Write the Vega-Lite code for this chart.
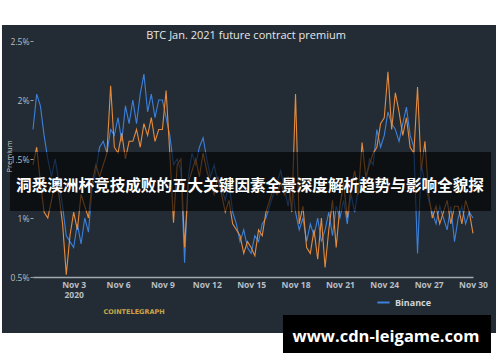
{
  "$schema": "https://vega.github.io/schema/vega-lite/v6.json",
  "width": 440,
  "height": 236,
  "autosize": {"type": "none"},
  "padding": {"left": 33, "top": 41, "right": 27, "bottom": 85},
  "background": "white",
  "config": {"view": {"stroke": null}, "font": "Open Sans"},
  "datasets": {
    "panel": [{"t": "2020-10-29T03:40", "t2": "2020-12-01T13:20", "v": 0.025, "v2": 2.636}],
    "titleText": [{"t": "2020-11-14T15:40", "v": 2.545, "label": "BTC Jan. 2021 future contract premium"}],
    "banner": [{"t": "2020-10-29T16:40", "t2": "2020-12-01T05:13", "v": 1.0593, "v2": 1.5593}],
    "bannerText": [{"t": "2020-11-14T22:05", "v": 1.2712, "label": "洞悉澳洲杯竞技成败的五大关键因素全景深度解析趋势与影响全貌探"}],
    "mark": [{"t": "2020-11-17T03:40", "t2": "2020-12-01T05:13", "v": -0.144, "v2": 0.178}],
    "markText": [{"t": "2020-11-24T02:50", "v": -0.0085, "label": "www.cdn-leigame.com"}],
    "logo": [{"t": "2020-11-07T02:00", "v": 0.203, "label": "COINTELEGRAPH"}],
    "premium": [
      {"t": "2020-10-31T06:00", "Binance": 1.75, "OKEx": 1.45},
      {"t": "2020-10-31T12:00", "Binance": 2.05, "OKEx": 1.6},
      {"t": "2020-10-31T18:00", "Binance": 1.95, "OKEx": 1.3},
      {"t": "2020-11-01T00:00", "Binance": 1.7, "OKEx": 1.05},
      {"t": "2020-11-01T06:00", "Binance": 1.5, "OKEx": 1.0},
      {"t": "2020-11-01T12:00", "Binance": 1.35, "OKEx": 1.15},
      {"t": "2020-11-01T18:00", "Binance": 1.5, "OKEx": 1.3},
      {"t": "2020-11-02T00:00", "Binance": 1.3, "OKEx": 1.2},
      {"t": "2020-11-02T06:00", "Binance": 1.1, "OKEx": 0.95},
      {"t": "2020-11-02T12:00", "Binance": 0.85, "OKEx": 0.52},
      {"t": "2020-11-02T18:00", "Binance": 0.8, "OKEx": 0.85},
      {"t": "2020-11-03T00:00", "Binance": 0.75, "OKEx": 1.05},
      {"t": "2020-11-03T06:00", "Binance": 0.95, "OKEx": 0.9},
      {"t": "2020-11-03T12:00", "Binance": 0.78, "OKEx": 1.2},
      {"t": "2020-11-03T18:00", "Binance": 1.0, "OKEx": 1.1},
      {"t": "2020-11-04T00:00", "Binance": 0.88, "OKEx": 1.0},
      {"t": "2020-11-04T06:00", "Binance": 1.25, "OKEx": 1.3},
      {"t": "2020-11-04T12:00", "Binance": 1.4, "OKEx": 1.45},
      {"t": "2020-11-04T18:00", "Binance": 1.6, "OKEx": 1.35},
      {"t": "2020-11-05T00:00", "Binance": 1.65, "OKEx": 1.45},
      {"t": "2020-11-05T06:00", "Binance": 1.55, "OKEx": 1.55},
      {"t": "2020-11-05T12:00", "Binance": 1.75, "OKEx": 2.12},
      {"t": "2020-11-05T18:00", "Binance": 1.7, "OKEx": 1.6},
      {"t": "2020-11-06T00:00", "Binance": 1.85, "OKEx": 1.55},
      {"t": "2020-11-06T06:00", "Binance": 1.65, "OKEx": 1.72},
      {"t": "2020-11-06T12:00", "Binance": 1.95, "OKEx": 1.5},
      {"t": "2020-11-06T18:00", "Binance": 1.8, "OKEx": 1.65},
      {"t": "2020-11-07T00:00", "Binance": 2.0, "OKEx": 1.65},
      {"t": "2020-11-07T06:00", "Binance": 1.8, "OKEx": 1.75},
      {"t": "2020-11-07T12:00", "Binance": 2.05, "OKEx": 1.6},
      {"t": "2020-11-07T18:00", "Binance": 2.22, "OKEx": 1.8},
      {"t": "2020-11-08T00:00", "Binance": 1.9, "OKEx": 1.7},
      {"t": "2020-11-08T06:00", "Binance": 2.05, "OKEx": 1.85},
      {"t": "2020-11-08T12:00", "Binance": 1.85, "OKEx": 1.65},
      {"t": "2020-11-08T18:00", "Binance": 2.0, "OKEx": 1.75},
      {"t": "2020-11-09T00:00", "Binance": 2.0, "OKEx": 1.75},
      {"t": "2020-11-09T06:00", "Binance": 1.85, "OKEx": 2.08},
      {"t": "2020-11-09T12:00", "Binance": 1.7, "OKEx": 1.55},
      {"t": "2020-11-09T18:00", "Binance": 1.45, "OKEx": 0.96},
      {"t": "2020-11-10T00:00", "Binance": 1.5, "OKEx": 1.45},
      {"t": "2020-11-10T06:00", "Binance": 1.4, "OKEx": 1.5},
      {"t": "2020-11-10T12:00", "Binance": 0.62, "OKEx": 0.75},
      {"t": "2020-11-10T18:00", "Binance": 1.35, "OKEx": 1.3},
      {"t": "2020-11-11T00:00", "Binance": 1.55, "OKEx": 1.4},
      {"t": "2020-11-11T06:00", "Binance": 1.45, "OKEx": 1.5},
      {"t": "2020-11-11T12:00", "Binance": 1.6, "OKEx": 1.35},
      {"t": "2020-11-11T18:00", "Binance": 1.68, "OKEx": 1.55},
      {"t": "2020-11-12T00:00", "Binance": 1.5, "OKEx": 1.4},
      {"t": "2020-11-12T06:00", "Binance": 1.35, "OKEx": 1.3},
      {"t": "2020-11-12T12:00", "Binance": 1.45, "OKEx": 1.2},
      {"t": "2020-11-12T18:00", "Binance": 1.3, "OKEx": 1.35},
      {"t": "2020-11-13T00:00", "Binance": 1.25, "OKEx": 1.2},
      {"t": "2020-11-13T06:00", "Binance": 1.15, "OKEx": 1.05},
      {"t": "2020-11-13T12:00", "Binance": 1.3, "OKEx": 1.15},
      {"t": "2020-11-13T18:00", "Binance": 1.05, "OKEx": 0.95},
      {"t": "2020-11-14T00:00", "Binance": 0.95, "OKEx": 0.9},
      {"t": "2020-11-14T06:00", "Binance": 0.8, "OKEx": 0.85},
      {"t": "2020-11-14T12:00", "Binance": 0.9, "OKEx": 0.7},
      {"t": "2020-11-14T18:00", "Binance": 0.75, "OKEx": 0.8},
      {"t": "2020-11-15T00:00", "Binance": 0.7, "OKEx": 0.75},
      {"t": "2020-11-15T06:00", "Binance": 0.85, "OKEx": 0.68},
      {"t": "2020-11-15T12:00", "Binance": 0.8, "OKEx": 0.9},
      {"t": "2020-11-15T18:00", "Binance": 0.95, "OKEx": 0.85},
      {"t": "2020-11-16T00:00", "Binance": 1.0, "OKEx": 1.05},
      {"t": "2020-11-16T06:00", "Binance": 1.1, "OKEx": 1.15},
      {"t": "2020-11-16T12:00", "Binance": 1.2, "OKEx": 1.25},
      {"t": "2020-11-16T18:00", "Binance": 1.3, "OKEx": 1.2},
      {"t": "2020-11-17T00:00", "Binance": 1.4, "OKEx": 1.3},
      {"t": "2020-11-17T06:00", "Binance": 1.25, "OKEx": 1.2},
      {"t": "2020-11-17T12:00", "Binance": 1.1, "OKEx": 1.35},
      {"t": "2020-11-17T18:00", "Binance": 1.3, "OKEx": 1.05},
      {"t": "2020-11-18T00:00", "Binance": 1.05, "OKEx": 2.05},
      {"t": "2020-11-18T06:00", "Binance": 0.9, "OKEx": 0.95},
      {"t": "2020-11-18T12:00", "Binance": 1.0, "OKEx": 1.1},
      {"t": "2020-11-18T18:00", "Binance": 0.8, "OKEx": 0.75},
      {"t": "2020-11-19T00:00", "Binance": 0.95, "OKEx": 0.7},
      {"t": "2020-11-19T06:00", "Binance": 0.85, "OKEx": 0.9},
      {"t": "2020-11-19T12:00", "Binance": 1.0, "OKEx": 0.65},
      {"t": "2020-11-19T18:00", "Binance": 0.8, "OKEx": 1.0},
      {"t": "2020-11-20T00:00", "Binance": 0.9, "OKEx": 0.58},
      {"t": "2020-11-20T06:00", "Binance": 1.05, "OKEx": 0.9},
      {"t": "2020-11-20T12:00", "Binance": 0.85, "OKEx": 1.15},
      {"t": "2020-11-20T18:00", "Binance": 1.1, "OKEx": 0.75},
      {"t": "2020-11-21T00:00", "Binance": 1.0, "OKEx": 1.1},
      {"t": "2020-11-21T06:00", "Binance": 1.15, "OKEx": 1.3},
      {"t": "2020-11-21T12:00", "Binance": 0.95, "OKEx": 1.0},
      {"t": "2020-11-21T18:00", "Binance": 1.2, "OKEx": 1.25},
      {"t": "2020-11-22T00:00", "Binance": 1.05, "OKEx": 1.4},
      {"t": "2020-11-22T06:00", "Binance": 1.25, "OKEx": 1.2},
      {"t": "2020-11-22T12:00", "Binance": 1.35, "OKEx": 1.64},
      {"t": "2020-11-22T18:00", "Binance": 1.3, "OKEx": 1.35},
      {"t": "2020-11-23T00:00", "Binance": 1.5, "OKEx": 1.45},
      {"t": "2020-11-23T06:00", "Binance": 1.45, "OKEx": 1.55},
      {"t": "2020-11-23T12:00", "Binance": 1.75, "OKEx": 1.6},
      {"t": "2020-11-23T18:00", "Binance": 1.6, "OKEx": 1.8},
      {"t": "2020-11-24T00:00", "Binance": 1.7, "OKEx": 1.85},
      {"t": "2020-11-24T06:00", "Binance": 1.9, "OKEx": 2.24},
      {"t": "2020-11-24T12:00", "Binance": 1.8, "OKEx": 1.75},
      {"t": "2020-11-24T18:00", "Binance": 1.75, "OKEx": 2.06},
      {"t": "2020-11-25T00:00", "Binance": 1.65, "OKEx": 1.9},
      {"t": "2020-11-25T06:00", "Binance": 1.8, "OKEx": 1.7},
      {"t": "2020-11-25T12:00", "Binance": 1.94, "OKEx": 1.85},
      {"t": "2020-11-25T18:00", "Binance": 1.7, "OKEx": 1.6},
      {"t": "2020-11-26T00:00", "Binance": 1.6, "OKEx": 1.55},
      {"t": "2020-11-26T06:00", "Binance": 0.7, "OKEx": 2.11},
      {"t": "2020-11-26T12:00", "Binance": 1.45, "OKEx": 1.4},
      {"t": "2020-11-26T18:00", "Binance": 1.3, "OKEx": 1.65},
      {"t": "2020-11-27T00:00", "Binance": 1.15, "OKEx": 1.2},
      {"t": "2020-11-27T06:00", "Binance": 1.05, "OKEx": 1.0},
      {"t": "2020-11-27T12:00", "Binance": 0.95, "OKEx": 1.1},
      {"t": "2020-11-27T18:00", "Binance": 1.1, "OKEx": 0.95},
      {"t": "2020-11-28T00:00", "Binance": 1.0, "OKEx": 1.05},
      {"t": "2020-11-28T06:00", "Binance": 0.9, "OKEx": 1.15},
      {"t": "2020-11-28T12:00", "Binance": 1.1, "OKEx": 0.95},
      {"t": "2020-11-28T18:00", "Binance": 0.8, "OKEx": 1.1},
      {"t": "2020-11-29T00:00", "Binance": 1.0, "OKEx": 1.1},
      {"t": "2020-11-29T06:00", "Binance": 1.1, "OKEx": 0.95},
      {"t": "2020-11-29T12:00", "Binance": 0.95, "OKEx": 1.15},
      {"t": "2020-11-29T18:00", "Binance": 1.05, "OKEx": 1.05},
      {"t": "2020-11-30T00:00", "Binance": 1.0, "OKEx": 0.87}
    ]
  },
  "layer": [
    {
      "data": {"name": "panel"},
      "mark": {"type": "rect", "color": "#232c34"},
      "encoding": {
        "x": {"field": "t", "type": "temporal", "title": null},
        "x2": {"field": "t2"},
        "y": {"field": "v", "type": "quantitative", "title": "Premium"},
        "y2": {"field": "v2"}
      }
    },
    {
      "data": {"name": "titleText"},
      "mark": {"type": "text", "color": "#e6e8ea", "font": "Open Sans", "fontSize": 11, "align": "center", "baseline": "middle"},
      "encoding": {
        "x": {"field": "t", "type": "temporal", "title": null},
        "y": {"field": "v", "type": "quantitative", "title": "Premium"},
        "text": {"field": "label"}
      }
    },
    {
      "data": {"name": "premium"},
      "transform": [{"fold": ["Binance", "OKEx"], "as": ["series", "v"]}],
      "mark": {"type": "line", "strokeWidth": 1.1, "interpolate": "linear"},
      "encoding": {
        "x": {
          "field": "t", "type": "temporal", "title": null,
          "scale": {"domain": ["2020-10-31T06:00", "2020-11-30T00:00"], "nice": false},
          "axis": {
            "zindex": 1,
            "values": [
              {"year": 2020, "month": 11, "date": 3}, {"year": 2020, "month": 11, "date": 6},
              {"year": 2020, "month": 11, "date": 9}, {"year": 2020, "month": 11, "date": 12},
              {"year": 2020, "month": 11, "date": 15}, {"year": 2020, "month": 11, "date": 18},
              {"year": 2020, "month": 11, "date": 21}, {"year": 2020, "month": 11, "date": 24},
              {"year": 2020, "month": 11, "date": 27}, {"year": 2020, "month": 11, "date": 30}
            ],
            "labelExpr": "(month(datum.value) == 10 && date(datum.value) == 3) ? ['Nov 3', '2020'] : timeFormat(datum.value, '%b %-d')",
            "domainColor": "#a3a8ad", "domainWidth": 1.5, "ticks": false, "grid": false,
            "labelColor": "#b9bec3", "labelFont": "Open Sans", "labelFontWeight": "bold", "labelFontSize": 8.5,
            "labelPadding": 3, "labelLineHeight": 10, "labelFlush": false, "labelOverlap": false
          }
        },
        "y": {
          "field": "v", "type": "quantitative", "title": "Premium",
          "scale": {"domain": [0.5, 2.5], "nice": false, "zero": false},
          "axis": {
            "zindex": 1,
            "values": [0.5, 1, 1.5, 2, 2.5],
            "labelExpr": "datum.value + '%'",
            "domain": false, "grid": false, "tickSize": 3, "tickColor": "#9aa0a6", "tickWidth": 1,
            "labelColor": "#b9bec3", "labelFont": "Open Sans", "labelFontSize": 8.5, "labelPadding": 1,
            "titleColor": "#c4c8cc", "titleFont": "Open Sans", "titleFontSize": 7.5, "titleFontWeight": "normal",
            "titleX": -24, "titleY": 115, "titleAngle": -90, "titleAlign": "center", "titleBaseline": "middle"
          }
        },
        "color": {
          "field": "series", "type": "nominal",
          "scale": {"domain": ["Binance", "OKEx"], "range": ["#3c80dc", "#e48b3e"]},
          "legend": {
            "orient": "none", "legendX": 343, "legendY": 254, "title": null, "symbolType": "stroke",
            "values": ["Binance"],
            "symbolSize": 150, "symbolStrokeWidth": 2, "labelColor": "#d0d4d8", "labelFont": "Open Sans",
            "labelFontSize": 9, "labelFontWeight": "bold", "rowPadding": 3
          }
        }
      }
    },
    {
      "data": {"name": "banner"},
      "mark": {"type": "rect", "color": "#000000", "opacity": 0.62},
      "encoding": {
        "x": {"field": "t", "type": "temporal", "title": null},
        "x2": {"field": "t2"},
        "y": {"field": "v", "type": "quantitative", "title": "Premium"},
        "y2": {"field": "v2"}
      }
    },
    {
      "data": {"name": "bannerText"},
      "mark": {"type": "text", "color": "#ffffff", "font": "Noto Sans CJK SC", "fontWeight": "bold", "fontSize": 15.6, "align": "center", "baseline": "middle"},
      "encoding": {
        "x": {"field": "t", "type": "temporal", "title": null},
        "y": {"field": "v", "type": "quantitative", "title": "Premium"},
        "text": {"field": "label"}
      }
    },
    {
      "data": {"name": "mark"},
      "mark": {"type": "rect", "color": "#000000"},
      "encoding": {
        "x": {"field": "t", "type": "temporal", "title": null},
        "x2": {"field": "t2"},
        "y": {"field": "v", "type": "quantitative", "title": "Premium"},
        "y2": {"field": "v2"}
      }
    },
    {
      "data": {"name": "markText"},
      "mark": {"type": "text", "color": "#ffffff", "font": "Open Sans", "fontWeight": "bold", "fontSize": 16.5, "align": "center", "baseline": "middle"},
      "encoding": {
        "x": {"field": "t", "type": "temporal", "title": null},
        "y": {"field": "v", "type": "quantitative", "title": "Premium"},
        "text": {"field": "label"}
      }
    },
    {
      "data": {"name": "logo"},
      "mark": {"type": "text", "color": "#c9a54a", "font": "DejaVu Sans", "fontWeight": "bold", "fontSize": 6.5, "align": "center", "baseline": "middle"},
      "encoding": {
        "x": {"field": "t", "type": "temporal", "title": null},
        "y": {"field": "v", "type": "quantitative", "title": "Premium"},
        "text": {"field": "label"}
      }
    }
  ]
}
